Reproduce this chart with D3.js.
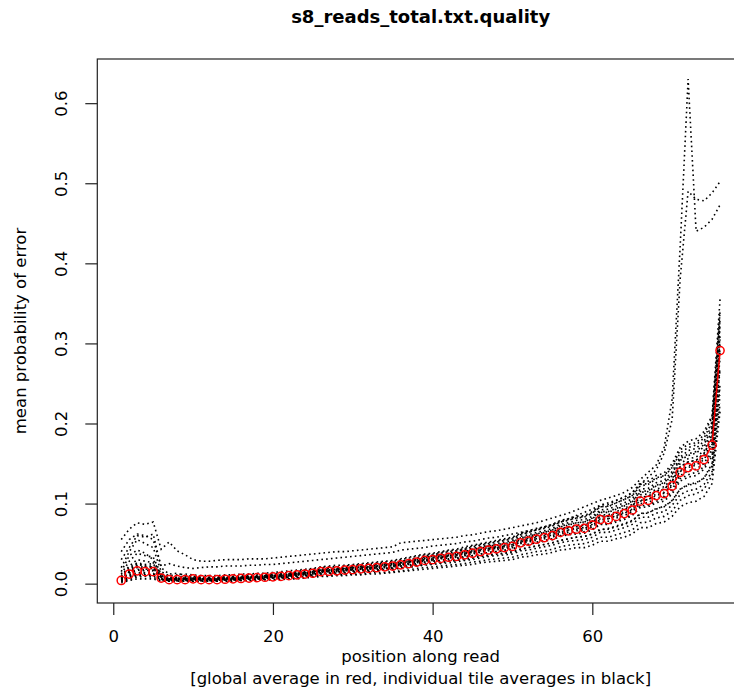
<!DOCTYPE html>
<html>
<head>
<meta charset="utf-8">
<script src="https://cdn.jsdelivr.net/npm/d3@7"></script>
<style>
  body { margin: 0; background: #fff; }
  #chart svg { display: block; }
  .tick text { font-family: "DejaVu Sans", sans-serif; font-size: 16.5px; fill: #000; }
  .tick line { stroke: #222; stroke-width: 1.2; }
</style>
</head>
<body>
<div id="chart"></div>
<script>
// all probabilities below are in units of 0.001
var positions = [1,2,3,4,5,6,7,8,9,10,11,12,13,14,15,16,17,18,19,20,21,22,23,24,25,26,27,28,29,30,
  31,32,33,34,35,36,37,38,39,40,41,42,43,44,45,46,47,48,49,50,51,52,53,54,55,56,57,58,59,60,
  61,62,63,64,65,66,67,68,69,70,71,72,73,74,75,76];

var globalAverage = [4,12,16,15,15,7, 5,5,5,6,5,5,5, 5.5,6,6.5,7,7.5,8,8.5,
  9,10,11,12,13,15,15.5,16,17,17.5, 18.5,19,20,21,22,23.5,25,27,29,30,
  31.5,33,34,36,38,40,42,43.5,45,46.5, 51,53,55.5,57.5,60,64,66,68,69,73,
  80,80,84,87.5,92,103,104,110,112.5,122, 139,145,147,155,173,291];

var tileA = [55,68,76,74,77,43, 52,41,36,30,28,28,29, 30,30,30,31,31,31,32,
  33,34,35,36,37,38,39,40,40,41, 42,43,44,45,46,51,52,53,54,55,
  56,57,58,60,61,63,65,66,68,70, 72,74,76,79,82,85,88,92,96,100,
  104,107,110,114,120,130,139,148,170,230, 420,630,440,445,455,473];
var tileB = [40,55,62,60,55,22, 25,22,20,19,20,21,21, 22,22,22,23,23,24,24,
  25,26,27,28,29,30,31,32,33,34, 35,36,37,38,39,42,43,44,45,47,
  48,49,50,52,53,55,57,58,60,62, 64,66,68,71,74,78,81,85,89,93,
  98,101,104,108,114,124,133,142,163,205, 380,490,480,478,488,502];
var tile01 = [3,5,8,9,8,4, 3,3,3,3,3,3,3, 3,4,4,4,5,5,5,
  6,6,7,8,9,10,10,11,11,12, 12,13,14,14,15,16,17,19,20,21,
  22,23,24,25,27,28,30,31,32,33, 36,38,40,41,43,46,48,49,50,53,
  58,58,61,64,67,76,77,82,84,91, 104,110,112,118,135,225];
var tile02 = [10,22,30,28,26,12, 8,8,8,9,8,8,8, 9,9,10,10,11,12,12,
  13,14,15,17,18,20,21,21,22,23, 24,25,26,27,28,30,32,34,36,37,
  39,41,42,44,47,49,51,53,55,57, 62,64,67,70,73,77,80,82,84,88,
  96,97,101,105,110,122,124,131,134,145, 163,170,173,182,202,340];
var tile03 = [5,15,20,18,19,8, 5,5,6,6,5,6,6, 6,6,7,7,8,8,9,
  9,10,12,12,14,15,16,17,17,18, 19,19,21,22,22,24,26,27,30,30,
  32,34,35,37,39,41,43,44,46,47, 52,54,56,58,61,65,67,69,70,74,
  81,81,85,89,93,104,105,112,114,124, 141,147,150,158,176,295];
var tile04 = [4,9,12,11,12,6, 4,4,4,4,4,4,4, 5,5,5,6,6,7,7,
  7,8,9,10,11,12,13,13,14,15, 15,16,17,18,19,20,21,23,24,25,
  26,28,29,30,32,34,35,37,38,39, 43,45,47,49,51,54,56,58,59,62,
  68,68,71,74,78,88,88,94,96,104, 118,124,126,132,150,250];
var tile05 = [20,40,55,50,45,15, 10,11,12,11,10,10,10, 11,11,12,12,13,13,14,
  15,16,17,18,19,21,22,23,23,24, 25,26,27,28,29,31,33,35,37,38,
  40,42,43,46,48,50,52,54,56,58, 63,66,69,71,74,79,81,84,85,90,
  98,99,104,108,113,126,128,135,138,150, 170,178,181,190,210,355];
var tile06 = [8,18,25,22,22,10, 6,7,7,7,6,6,6, 7,7,8,8,9,10,10,
  11,12,13,14,15,17,18,18,19,20, 21,22,23,24,25,27,28,30,32,34,
  35,37,38,40,42,44,47,48,50,52, 57,59,62,64,67,71,73,76,77,81,
  89,89,93,97,102,114,115,122,125,135, 154,160,163,171,190,320];
var tile07 = [3,7,10,10,10,5, 4,4,4,4,4,4,4, 4,5,5,5,6,6,7,
  7,8,8,9,10,12,12,12,13,14, 14,15,16,17,18,19,20,22,23,24,
  25,26,27,29,30,32,34,35,36,37, 41,42,44,46,48,51,53,54,55,58,
  64,64,67,70,74,83,83,88,90,98, 111,116,118,124,140,235];
var tile08 = [6,14,18,17,16,8, 5,5,5,6,5,5,5, 5,6,6,7,7,8,8,
  9,10,11,11,12,14,15,15,16,17, 18,18,19,20,21,23,24,26,28,29,
  31,32,33,35,37,39,41,42,44,45, 50,52,54,56,58,62,64,66,67,71,
  78,78,82,85,90,100,101,107,109,118, 135,141,143,150,168,282];
var tile09 = [30,45,60,58,62,20, 12,13,10,9,8,8,8, 8,9,9,10,10,11,11,
  12,13,14,15,16,18,19,19,20,21, 22,23,24,25,26,28,29,31,33,35,
  36,38,40,42,44,46,48,50,52,54, 59,61,64,66,69,74,76,79,80,84,
  92,93,97,101,106,118,119,126,129,140, 158,166,169,178,198,330];
var tile10 = [1,4,6,6,6,3, 3,3,3,3,3,3,3, 3,3,4,4,4,5,5,
  5,6,6,7,8,9,9,10,10,11, 11,12,12,13,14,15,16,17,18,19,
  20,21,22,23,24,26,27,28,29,30, 33,34,36,37,39,42,43,45,45,48,
  53,53,56,58,62,70,70,75,77,84, 96,101,103,109,125,215];
var tile11 = [12,28,38,35,33,12, 7,8,9,8,7,7,7, 8,8,8,9,9,10,11,
  11,12,13,14,15,17,17,18,19,20, 20,21,22,23,24,26,27,29,31,32,
  34,35,37,39,41,43,45,46,48,50, 55,57,60,62,65,69,71,73,74,78,
  86,86,90,94,99,111,112,118,121,131, 150,156,158,166,186,310];
var tile12 = [5,11,14,14,13,6, 5,5,5,5,5,5,5, 5,6,6,7,7,7,8,
  8,9,10,11,12,14,14,15,16,16, 17,18,19,19,20,22,23,25,27,28,
  29,31,32,34,35,37,39,40,42,43, 48,49,52,54,56,60,62,64,65,68,
  75,75,79,82,86,97,98,103,106,115, 131,136,139,146,163,270];
var tile13 = [7,16,22,20,21,9, 6,6,6,6,6,6,6, 6,7,7,8,8,9,9,
  10,11,12,13,14,16,16,17,18,19, 20,20,21,23,23,25,27,28,30,32,
  33,35,36,38,40,42,44,46,47,49, 54,56,59,61,63,68,70,72,73,77,
  84,84,88,92,97,108,109,116,118,128, 146,152,154,163,182,305];
var tile14 = [6,13,17,16,17,8, 5,5,6,6,6,5,5, 6,6,7,7,8,9,9,
  9,10,12,13,14,16,16,17,18,18, 19,20,21,22,23,25,26,28,30,31,
  33,35,36,38,40,42,44,45,47,49, 53,55,58,60,63,67,69,71,72,77,
  84,84,88,92,97,108,109,115,118,128, 146,152,154,162,182,300];
var tile15 = [4,10,13,13,12,6, 4,4,5,5,4,4,5, 5,5,6,6,7,7,8,
  8,9,10,11,12,14,14,15,16,16, 17,17,18,19,20,22,23,25,27,28,
  29,30,31,33,35,37,39,40,41,43, 47,49,51,53,55,59,61,62,63,67,
  74,74,77,80,85,95,96,101,103,112, 128,133,135,143,159,268];
var tile16 = [9,20,26,24,25,10, 6,6,6,7,6,6,6, 6,7,7,8,8,9,10,
  10,11,12,13,15,17,17,18,19,20, 21,21,22,24,25,26,28,30,32,34,
  35,37,38,40,43,45,47,49,50,52, 57,59,62,64,67,72,74,76,77,82,
  90,90,94,98,103,115,116,123,126,137, 156,162,165,174,194,325];
var tile17 = [3,8,11,11,11,5, 4,4,4,5,4,4,4, 5,5,5,6,6,6,7,
  8,8,9,10,11,13,13,14,14,15, 16,16,17,18,19,20,21,23,25,26,
  27,28,29,31,32,34,36,37,38,40, 43,45,47,49,51,54,56,58,59,62,
  67,69,72,75,79,87,89,93,97,103, 118,123,125,132,147,247];
var tile18 = [15,35,42,38,30,10, 6,6,6,6,5,5,5, 6,6,7,7,8,8,9,
  9,10,11,12,13,15,16,16,17,18, 18,19,20,21,22,24,25,27,29,30,
  32,33,34,36,38,40,42,44,45,47, 51,53,56,58,60,64,66,68,69,73,
  80,81,84,88,92,103,105,110,113,122, 140,145,148,155,174,290];
var tile19 = [7,17,24,22,20,9, 6,6,7,7,7,7,7, 7,8,8,9,9,10,10,
  11,12,13,14,16,18,19,19,20,21, 22,23,24,25,26,28,30,32,35,36,
  38,40,41,43,46,48,50,52,54,56, 61,64,67,69,72,77,79,82,83,88,
  96,96,101,105,110,124,125,132,135,146, 167,174,176,186,208,340];

var tiles = [tileA, tileB, tile01, tile02, tile03, tile04, tile05, tile06, tile07, tile08,
  tile09, tile10, tile11, tile12, tile13, tile14, tile15, tile16, tile17, tile18, tile19];

var xTicks = [0, 20, 40, 60];
var yTicks = [0, 0.1, 0.2, 0.3, 0.4, 0.5, 0.6];

var chartTitle = "s8_reads_total.txt.quality";
var xTitle = "position along read";
var xSubtitle = "[global average in red, individual tile averages in black]";
var yTitle = "mean probability of error";

var W = 734, H = 692;
var margin = {top: 59, right: -10, bottom: 89, left: 97.3},
    width = W - margin.left - margin.right,
    height = H - margin.top - margin.bottom;

var svg = d3.select("#chart")
  .append("svg")
    .attr("width", W)
    .attr("height", H)
    .style("overflow", "hidden");

var g = svg.append("g")
    .attr("transform", "translate(" + margin.left + "," + margin.top + ")");

// R style ranges: data extent padded by 4% on each side
var xMin = d3.min(positions), xMax = d3.max(positions);
var xPad = (xMax - xMin) * 0.04;
var x = d3.scaleLinear()
  .domain([xMin - xPad, xMax + xPad])
  .range([0, width]);

var allVals = d3.merge(tiles.concat([globalAverage])).map(function(v){ return v / 1000; });
var yMin = d3.min(allVals), yMax = d3.max(allVals);
var yPad = (yMax - yMin) * 0.04;
var y = d3.scaleLinear()
  .domain([yMin - yPad, yMax + yPad])
  .range([height, 0]);

//tile averages, dotted black
var line = d3.line()
  .x(function(d, i){ return x(positions[i]); })
  .y(function(d){ return y(d / 1000); });

g.selectAll(".tile")
  .data(tiles)
  .enter()
  .append("path")
    .attr("class", "tile")
    .attr("d", line)
    .attr("fill", "none")
    .attr("stroke", "#000")
    .attr("stroke-width", 1.6)
    .attr("stroke-dasharray", "1.6,3.2");

//global average: circles joined by gapped segments (type = "b")
var r = 4.1;
var pts = globalAverage.map(function(v, i){ return [x(positions[i]), y(v / 1000)]; });
var segs = [];
for (var i = 1; i < pts.length; i++) {
  var dx = pts[i][0] - pts[i-1][0], dy = pts[i][1] - pts[i-1][1];
  var len = Math.sqrt(dx*dx + dy*dy);
  if (len > 2 * r) {
    segs.push([pts[i-1][0] + dx/len*r, pts[i-1][1] + dy/len*r,
               pts[i][0] - dx/len*r, pts[i][1] - dy/len*r]);
  }
}
g.selectAll(".seg")
  .data(segs)
  .enter()
  .append("line")
    .attr("x1", function(d){ return d[0]; })
    .attr("y1", function(d){ return d[1]; })
    .attr("x2", function(d){ return d[2]; })
    .attr("y2", function(d){ return d[3]; })
    .attr("stroke", "#f00")
    .attr("stroke-width", 1.5);

g.selectAll(".avg")
  .data(pts)
  .enter()
  .append("circle")
    .attr("cx", function(d){ return d[0]; })
    .attr("cy", function(d){ return d[1]; })
    .attr("r", r)
    .attr("fill", "none")
    .attr("stroke", "#f00")
    .attr("stroke-width", 1.5);

//box
g.append("rect")
  .attr("x", 0).attr("y", 0)
  .attr("width", width).attr("height", height)
  .attr("fill", "none")
  .attr("stroke", "#222")
  .attr("stroke-width", 1.2);

//x-axis
var xAxis = g.append("g")
  .attr("transform", "translate(0," + height + ")")
  .call(d3.axisBottom(x).tickValues(xTicks).tickSize(12).tickSizeOuter(0).tickPadding(15)
        .tickFormat(d3.format("d")));
xAxis.select(".domain").remove();

//y-axis, labels parallel to the axis
var yAxis = g.append("g")
  .call(d3.axisLeft(y).tickValues(yTicks).tickSize(12).tickSizeOuter(0)
        .tickFormat(d3.format(".1f")));
yAxis.select(".domain").remove();
yAxis.selectAll("text")
  .attr("transform", "rotate(-90)")
  .attr("x", 0)
  .attr("y", -30)
  .attr("dy", 0)
  .style("text-anchor", "middle");

//titles
var cx = margin.left + width / 2;
svg.append("text")
  .attr("x", cx).attr("y", 23)
  .attr("text-anchor", "middle")
  .style("font-family", "DejaVu Sans, sans-serif")
  .style("font-weight", "bold")
  .style("font-size", "18px")
  .text(chartTitle);

svg.append("text")
  .attr("x", cx).attr("y", 662)
  .attr("text-anchor", "middle")
  .style("font-family", "DejaVu Sans, sans-serif")
  .style("font-size", "16.5px")
  .text(xTitle);

svg.append("text")
  .attr("x", cx).attr("y", 684)
  .attr("text-anchor", "middle")
  .style("font-family", "DejaVu Sans, sans-serif")
  .style("font-size", "16.5px")
  .text(xSubtitle);

svg.append("text")
  .attr("transform", "translate(26," + (margin.top + height / 2) + ")rotate(-90)")
  .attr("text-anchor", "middle")
  .style("font-family", "DejaVu Sans, sans-serif")
  .style("font-size", "16.5px")
  .text(yTitle);
</script>
</body>
</html>
